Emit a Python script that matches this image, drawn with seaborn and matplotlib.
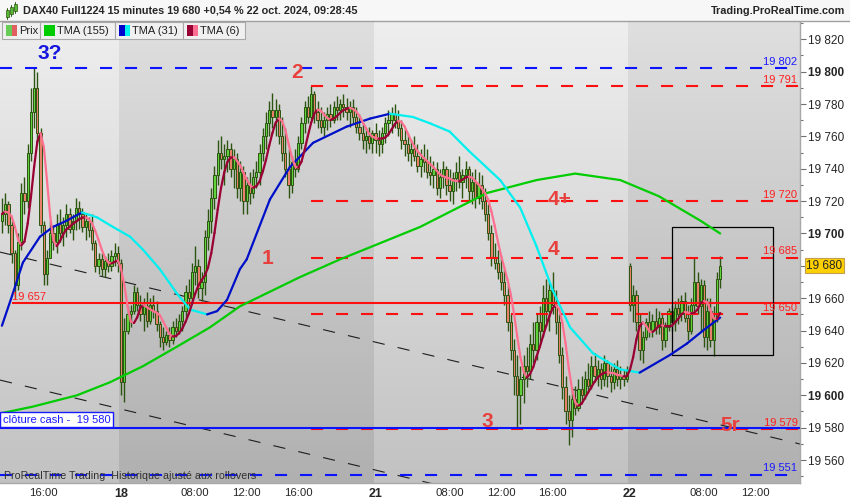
import numpy as np
import pandas as pd
import matplotlib
matplotlib.use("Agg")
import matplotlib.pyplot as plt
import matplotlib.transforms as mtransforms
from matplotlib.collections import LineCollection
from matplotlib.patches import Rectangle
import seaborn as sns

sns.set_style("white")
plt.rcParams['font.family'] = ['Liberation Sans', 'DejaVu Sans']

# Barres 15 minutes (index continu, 17 -> 22 oct.)
opens = [
    # 17
    19708, 19712, 19718, 19705, 19688, 19668, 19695, 19725, 19720, 19750, 19775, 19790, 19762,
    19705, 19675, 19685, 19700, 19695, 19706, 19700, 19705, 19712, 19703, 19708, 19716, 19712,
    19704, 19708, 19702, 19694, 19680, 19684, 19678, 19683, 19680, 19686, 19688,
    # 18
    19682, 19608, 19640, 19650, 19652, 19664, 19656, 19650, 19655, 19646, 19656, 19652, 19644,
    19636, 19633, 19637, 19634, 19642, 19640, 19646, 19652, 19664, 19660, 19676, 19680, 19666,
    19670, 19698, 19708, 19722, 19736, 19750, 19746, 19748, 19752, 19740, 19746, 19728, 19738,
    19720, 19730, 19725, 19735, 19738, 19750, 19760, 19768, 19776, 19772, 19776, 19760, 19750,
    19740, 19730, 19744, 19740, 19756, 19768, 19778, 19772, 19786, 19775, 19770, 19766, 19770,
    19774, 19770, 19778, 19776, 19780, 19778, 19775, 19778, 19772, 19766, 19762, 19758, 19760,
    19756,
    # 21
    19762, 19758, 19755, 19762, 19768, 19770, 19774, 19770, 19765, 19758, 19755, 19750, 19752,
    19748, 19742, 19746, 19744, 19738, 19736, 19740, 19728, 19735, 19740, 19730, 19726, 19734,
    19738, 19732, 19736, 19740, 19726, 19732, 19722, 19730, 19720, 19712, 19700, 19685, 19682,
    19676, 19670, 19662, 19645, 19628, 19612, 19600, 19610, 19618, 19615, 19632, 19628, 19645,
    19640, 19660, 19652, 19665, 19656, 19645, 19625, 19605, 19590, 19585, 19598, 19592, 19604,
    19600, 19610, 19606, 19618, 19612, 19616, 19610, 19620, 19612, 19608, 19616, 19610, 19612,
    19610,
    # 22
    19680, 19656, 19662, 19645, 19628, 19636, 19645, 19640, 19646, 19642, 19648, 19634, 19642,
    19652, 19645, 19654, 19650, 19658, 19648, 19640, 19656, 19670, 19655, 19668, 19636, 19652,
    19634, 19648, 19672,
]
highs = [
    19722, 19725, 19720, 19708, 19690, 19700, 19731, 19735, 19755, 19790, 19802, 19800, 19765,
    19708, 19690, 19708, 19705, 19712, 19715, 19710, 19718, 19716, 19712, 19722, 19720, 19716,
    19712, 19710, 19712, 19696, 19688, 19688, 19686, 19688, 19690, 19694, 19692,
    19684, 19648, 19655, 19656, 19668, 19667, 19662, 19660, 19664, 19660, 19662, 19658, 19646,
    19642, 19640, 19642, 19646, 19648, 19650, 19655, 19668, 19672, 19682, 19692, 19684, 19676,
    19702, 19715, 19728, 19742, 19758, 19760, 19755, 19758, 19756, 19752, 19750, 19745, 19742,
    19735, 19738, 19740, 19745, 19755, 19765, 19775, 19782, 19787, 19783, 19780, 19772, 19765,
    19752, 19748, 19752, 19760, 19772, 19782, 19785, 19791, 19788, 19782, 19778, 19775, 19778,
    19780, 19782, 19785, 19783, 19786, 19784, 19782, 19783, 19778, 19774, 19768, 19765, 19766,
    19764,
    19768, 19764, 19766, 19772, 19776, 19778, 19780, 19776, 19770, 19765, 19762, 19758, 19760,
    19755, 19752, 19755, 19752, 19748, 19745, 19744, 19740, 19745, 19742, 19740, 19738, 19744,
    19748, 19740, 19745, 19742, 19738, 19740, 19738, 19736, 19728, 19718, 19705, 19694, 19690,
    19686, 19678, 19668, 19650, 19635, 19625, 19618, 19625, 19630, 19638, 19645, 19650, 19655,
    19668, 19672, 19670, 19676, 19665, 19650, 19630, 19612, 19600, 19605, 19606, 19610, 19612,
    19615, 19620, 19624, 19626, 19622, 19620, 19625, 19622, 19618, 19620, 19622, 19618, 19616,
    19618,
    19682, 19668, 19665, 19650, 19640, 19648, 19652, 19650, 19654, 19652, 19650, 19645, 19654,
    19656, 19658, 19660, 19662, 19664, 19656, 19660, 19685, 19676, 19672, 19671, 19660, 19660,
    19655, 19676, 19686,
]
lows = [
    19700, 19705, 19700, 19682, 19660, 19665, 19690, 19712, 19716, 19745, 19765, 19755, 19700,
    19668, 19668, 19685, 19690, 19688, 19695, 19692, 19698, 19700, 19696, 19702, 19703, 19701,
    19696, 19698, 19690, 19676, 19675, 19674, 19673, 19676, 19677, 19680, 19676,
    19600, 19596, 19638, 19642, 19650, 19652, 19646, 19640, 19642, 19644, 19648, 19640, 19630,
    19628, 19631, 19630, 19632, 19636, 19638, 19640, 19648, 19655, 19657, 19668, 19660, 19658,
    19662, 19690, 19700, 19715, 19730, 19740, 19730, 19738, 19735, 19728, 19722, 19720, 19712,
    19712, 19718, 19722, 19728, 19730, 19745, 19752, 19760, 19765, 19760, 19755, 19745, 19735,
    19722, 19725, 19735, 19738, 19752, 19762, 19768, 19770, 19768, 19765, 19762, 19760, 19764,
    19766, 19768, 19770, 19770, 19772, 19770, 19766, 19768, 19762, 19758, 19752, 19750, 19752,
    19750,
    19750, 19748, 19750, 19756, 19760, 19762, 19765, 19760, 19752, 19748, 19745, 19742, 19745,
    19738, 19735, 19738, 19734, 19730, 19728, 19724, 19722, 19728, 19724, 19720, 19718, 19726,
    19728, 19722, 19728, 19720, 19718, 19716, 19718, 19715, 19708, 19696, 19680, 19678, 19672,
    19665, 19656, 19640, 19622, 19600, 19580, 19582, 19595, 19605, 19610, 19620, 19622, 19632,
    19636, 19645, 19640, 19650, 19638, 19620, 19598, 19582, 19569, 19574, 19588, 19590, 19596,
    19598, 19602, 19604, 19608, 19606, 19604, 19606, 19605, 19602, 19604, 19606, 19604, 19606,
    19608,
    19652, 19645, 19640, 19622, 19620, 19634, 19636, 19636, 19638, 19638, 19628, 19630, 19640,
    19640, 19640, 19644, 19646, 19645, 19634, 19638, 19652, 19650, 19640, 19630, 19628, 19630,
    19624, 19645, 19666,
]
closes = [
    19712, 19718, 19705, 19688, 19668, 19695, 19725, 19720, 19750, 19775, 19790, 19762, 19705,
    19675, 19685, 19700, 19695, 19706, 19700, 19705, 19712, 19703, 19708, 19716, 19712, 19704,
    19708, 19702, 19694, 19680, 19684, 19678, 19683, 19680, 19686, 19688, 19682,
    19608, 19640, 19650, 19652, 19664, 19656, 19650, 19655, 19646, 19656, 19652, 19644, 19636,
    19633, 19637, 19634, 19642, 19640, 19646, 19652, 19664, 19660, 19676, 19680, 19666, 19670,
    19698, 19708, 19722, 19736, 19750, 19746, 19748, 19752, 19740, 19746, 19728, 19738, 19720,
    19730, 19725, 19735, 19738, 19750, 19760, 19768, 19776, 19772, 19776, 19760, 19750, 19740,
    19730, 19744, 19740, 19756, 19768, 19778, 19772, 19786, 19775, 19770, 19766, 19770, 19774,
    19770, 19778, 19776, 19780, 19778, 19775, 19778, 19772, 19766, 19762, 19758, 19760, 19756,
    19762,
    19758, 19755, 19762, 19768, 19770, 19774, 19770, 19765, 19758, 19755, 19750, 19752, 19748,
    19742, 19746, 19744, 19738, 19736, 19740, 19728, 19735, 19740, 19730, 19726, 19734, 19738,
    19732, 19736, 19740, 19726, 19732, 19722, 19730, 19720, 19712, 19700, 19685, 19682, 19676,
    19670, 19662, 19645, 19628, 19612, 19600, 19610, 19618, 19615, 19632, 19628, 19645, 19640,
    19660, 19652, 19665, 19656, 19645, 19625, 19605, 19590, 19585, 19598, 19592, 19604, 19600,
    19610, 19606, 19618, 19612, 19616, 19610, 19620, 19612, 19608, 19616, 19610, 19612, 19610,
    19615,
    19656, 19662, 19645, 19628, 19636, 19645, 19640, 19646, 19642, 19648, 19634, 19642, 19652,
    19645, 19654, 19650, 19658, 19648, 19640, 19656, 19670, 19655, 19668, 19636, 19652, 19634,
    19648, 19672, 19680,
]

# TMA (position en barres, valeur)
tma31_bar = [0, 3.4, 6.5, 11.8, 15.8, 20.2, 24.8, 29.5, 34.5, 39.8, 43.8, 49, 54.3, 58.4,
             63.7, 66.8, 69.9, 73.9, 76, 83.2, 89.4, 96.6, 107, 114.3, 120.5, 127.6, 133,
             139, 145, 154.7, 160.9, 166, 171, 176.4, 183.5, 192, 198, 207.5, 212.7, 217.7, 223]
tma31_val = [19643, 19663, 19682, 19698, 19704, 19708, 19713, 19710, 19704, 19698, 19690,
             19678, 19663, 19653, 19650, 19652, 19659, 19678, 19684, 19721, 19741, 19756,
             19766, 19771, 19774, 19772, 19768, 19763, 19751, 19733, 19716, 19692, 19665,
             19642, 19626, 19616, 19614, 19625, 19632, 19640, 19648]
tma155_bar = [0, 9.6, 23.3, 33.5, 43.8, 54.3, 64.6, 73.9, 92.5, 105, 129.8, 150.6, 166,
              178, 192, 204, 216.8, 223]
tma155_val = [19589, 19593, 19600, 19608, 19618, 19630, 19642, 19655, 19673, 19684, 19704,
              19725, 19733, 19737, 19733, 19723, 19708, 19700]

# axe du temps
tick_bars = [13, 37, 60, 76, 92, 116, 139, 155, 171, 195, 218, 234]
tick_labels = ['16:00', '18', '08:00', '12:00', '16:00', '21', '08:00', '12:00', '16:00',
               '22', '08:00', '12:00']
minor_bars = [29, 44, 108, 123, 187, 202]
day_edges = [-0.6, 36.5, 115.5, 194.5, 247.8]

# niveaux tracés
blue_dash_levels = [19802, 19551]
red_dash_levels = [19791, 19720, 19685, 19650, 19579]
red_level = 19657
cash_level = 19580
trend_a = [(-0.6, 19688.5), (247.8, 19569.9)]
trend_b = [(-0.6, 19609.4), (247.8, 19490.9)]
zone = (208.1, 19625, 239.4, 19704)

df = pd.DataFrame({'o': opens, 'h': highs, 'l': lows, 'c': closes})
df['bar'] = np.arange(len(df))

XMIN, XMAX = -0.6, 247.8
YMIN, YMAX = 19545.8, 19831.3

fig = plt.figure(figsize=(8.5, 5), dpi=100)
fig.patch.set_facecolor('white')
ax = fig.add_axes([0, 17 / 500, 800 / 850, 462 / 500])

# fond : dégradé vertical, jours alternés
grad = np.linspace(0, 1, 256)[:, None, None]
shades = [((0.935, 0.935, 0.935), (0.76, 0.76, 0.76)),
          ((0.875, 0.875, 0.875), (0.69, 0.69, 0.69))]
for k in range(4):
    top, bot = (np.array(c) for c in shades[k % 2])
    img = top + (bot - top) * grad
    ax.imshow(img, extent=[day_edges[k], day_edges[k + 1], YMIN, YMAX],
              aspect='auto', origin='upper', zorder=0)

# lignes de tendance
for (x0, y0), (x1, y1) in (trend_a, trend_b):
    ax.plot([x0, x1], [y0, y1], color='#1e1e1e', lw=0.8, dashes=(11, 12), zorder=1)

# bougies
up = df.c >= df.o
edge = '#2b5510'
ax.vlines(df.bar, df.l, df.h, color=edge, lw=1.0, zorder=3)
body_low = np.minimum(df.o, df.c)
body_h = np.maximum((df.c - df.o).abs(), 0.7)
ax.bar(df.bar, body_h, bottom=body_low, width=0.7,
       color=np.where(up, '#5fd23c', '#e8806c'), edgecolor=edge, linewidth=0.7, zorder=3)

# niveaux horizontaux
ax.hlines(blue_dash_levels, XMIN, XMAX, color='#0a14ff', lw=1.5, linestyles=(0, (5.8, 6.2)), zorder=4)
ax.hlines(red_dash_levels, 96, XMAX, color='#ff1010', lw=1.5, linestyles=(0, (5.8, 6.2)), zorder=4)
ax.hlines(red_level, 3.1, XMAX, color='#ff1010', lw=1.5, zorder=4)
ax.hlines(cash_level, XMIN, XMAX, color='#0a14ff', lw=1.5, zorder=4)
ax.add_patch(Rectangle((zone[0], zone[1]), zone[2] - zone[0], zone[3] - zone[1],
                       fill=False, ec='black', lw=0.9, zorder=4))

up_off = mtransforms.offset_copy(ax.transData, fig=fig, y=1.5, units='dots')
for lv in blue_dash_levels:
    ax.text(247, lv, f'{lv:,}'.replace(',', ' '), color='#1a1aff', fontsize=8,
            ha='right', va='bottom', transform=up_off, zorder=7)
for lv in red_dash_levels:
    ax.text(247, lv, f'{lv:,}'.replace(',', ' '), color='#ff2020', fontsize=8,
            ha='right', va='bottom', transform=up_off, zorder=7)
ax.text(3.1, red_level, '19 657', color='#ff2020', fontsize=8, ha='left', va='bottom',
        transform=up_off, zorder=7)


# moyennes mobiles
def slope_line(x, y, col_up, col_down, lw):
    x = np.asarray(x, float)
    y = np.asarray(y, float)
    pts = np.column_stack([x, y])
    segs = np.stack([pts[:-1], pts[1:]], axis=1)
    cols = [col_up if b >= a else col_down for a, b in zip(y[:-1], y[1:])]
    ax.add_collection(LineCollection(segs, colors=cols, linewidths=lw,
                                     capstyle='round', joinstyle='round', zorder=6))


sns.lineplot(x=tma155_bar, y=tma155_val, sort=False, color='#00cc00', lw=1.6, ax=ax, zorder=5)
slope_line(tma31_bar, tma31_val, '#0010c8', '#00f0f0', 1.6)
tma6 = df.c.rolling(3, min_periods=1).mean().rolling(4, min_periods=1).mean()
slope_line(df.bar, tma6, '#990033', '#ff7090', 1.6)

# repères
red_txt = '#e8403c'
notes = [('3?', 14.9, 19811.5, '#1515e0'), ('2', 91.6, 19799.2, red_txt),
         ('1', 82.6, 19684.8, red_txt), ('4+', 173, 19721.2, red_txt),
         ('4', 171.1, 19690.3, red_txt), ('3', 150.6, 19584.1, red_txt),
         ('5r', 226.1, 19581.6, red_txt)]
for s, xb, yp, col in notes:
    ax.text(xb, yp, s, color=col, fontsize=15, fontweight='bold', ha='center', va='center', zorder=8)

ax.text(0.2, 19585, 'clôture cash -  19 580', color='#1a1aff', fontsize=8, ha='left', va='center',
        bbox=dict(boxstyle='square,pad=0.25', fc='white', ec='#1a1aff', lw=1), zorder=8)
ax.text(0.5, 19550.3, 'ProRealTime Trading  Historique ajusté aux rollovers', color='#303030',
        fontsize=7.7, ha='left', va='center', zorder=8)

# axes
ax.set_xlim(XMIN, XMAX)
ax.set_ylim(YMIN, YMAX)
ax.grid(False)
for side in ('left', 'top'):
    ax.spines[side].set_visible(False)
for side in ('right', 'bottom'):
    ax.spines[side].set_color('#a8a8a8')
    ax.spines[side].set_linewidth(1)

ax.yaxis.tick_right()
yt = np.arange(19560, 19821, 20)
ax.set_yticks(yt)
ax.set_yticks(np.arange(19550, 19831, 10), minor=True)
ax.set_yticklabels(['' if v == 19680 else f'{int(v):,}'.replace(',', ' ') for v in yt])
for lab, v in zip(ax.get_yticklabels(), yt):
    if v % 100 == 0:
        lab.set_fontweight('bold')
ax.tick_params(axis='y', which='major', length=4, width=0.8, color='#707070', labelsize=8.5, pad=2)
ax.tick_params(axis='y', which='minor', length=2, width=0.8, color='#707070')

ax.set_xticks(tick_bars)
ax.set_xticklabels(tick_labels)
ax.set_xticks(minor_bars, minor=True)
ax.tick_params(axis='x', which='both', length=3, width=0.8, color='#909090', labelsize=8.2, pad=0.5)
for lab in ax.get_xticklabels():
    if ':' not in lab.get_text():
        lab.set_fontweight('bold')
        lab.set_fontsize(9)
ax.set_xlabel('')
ax.set_ylabel('')

ax.text(1.0075, 19680, '19 680', transform=mtransforms.blended_transform_factory(ax.transAxes, ax.transData),
        ha='left', va='center', fontsize=8.5, clip_on=False, zorder=10,
        bbox=dict(boxstyle='square,pad=0.12', fc='#ffd000', ec='#c0a050', lw=0.8))


# bandeau du haut
def px_rect(x0, y0, w, h, **kw):
    fig.add_artist(Rectangle((x0 / 850, 1 - (y0 + h) / 500), w / 850, h / 500,
                             transform=fig.transFigure, **kw))


px_rect(0, 0, 850, 21, fc='#f7f7f7', ec='none', zorder=2)
fig.add_artist(plt.Line2D([0, 1], [1 - 21 / 500] * 2, transform=fig.transFigure, color='#a0a0a0', lw=1, zorder=3))
fig.text(23 / 850, 1 - 10.5 / 500, 'DAX40 Full1224 15 minutes 19 680 +0,54 % 22 oct. 2024, 09:28:45',
         fontsize=7.8, fontweight='bold', va='center', ha='left')
fig.text(845 / 850, 1 - 10.5 / 500, 'Trading.ProRealTime.com', fontsize=7.8, fontweight='bold',
         va='center', ha='right')
# petite icône
for xi, yi, hh, col in [(6, 10, 7, '#55bb33'), (10, 7, 7, '#55bb33'), (14, 4, 7, '#55bb33')]:
    fig.add_artist(plt.Line2D([(xi + 1) / 850] * 2, [1 - (yi + hh + 2) / 500, 1 - (yi - 2) / 500],
                              transform=fig.transFigure, color='#2b5510', lw=0.7, zorder=4))
    px_rect(xi, yi, 2.5, hh, fc=col, ec='#2b5510', lw=0.5, zorder=5)

# légende
legend_items = [('Prix', 2, 38, ('#66cc55', '#e06060')),
                ('TMA (155)', 40, 75, ('#00cc00', '#00cc00')),
                ('TMA (31)', 115, 68, ('#0000cc', '#00f0f0')),
                ('TMA (6)', 183, 62, ('#990033', '#ff6f91'))]
for name, x0, w, (c1, c2) in legend_items:
    px_rect(x0, 22, w, 16.5, fc='#f0f0f0', ec='#a8a8a8', lw=0.8, zorder=4)
    px_rect(x0 + 4, 25, 5.5, 10.5, fc=c1, ec='none', zorder=5)
    px_rect(x0 + 9.5, 25, 5.5, 10.5, fc=c2, ec='none', zorder=5)
    fig.text((x0 + 17) / 850, 1 - 30.5 / 500, name, fontsize=8, va='center', ha='left',
             color='#202020', zorder=6)

fig.savefig('out.png', dpi=100, facecolor='white')
